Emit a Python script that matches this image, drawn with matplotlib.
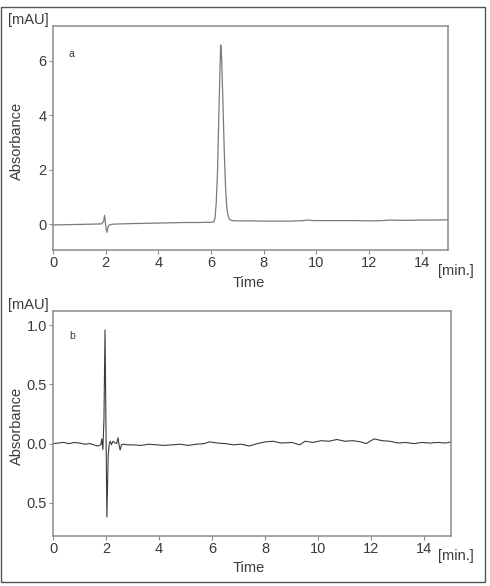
import matplotlib
matplotlib.use("Agg")
import matplotlib.pyplot as plt
from matplotlib.patches import Rectangle

plt.rcParams['font.family'] = ['Liberation Sans', 'DejaVu Sans']

# chromatogram a (time [min], absorbance [mAU])
time_a = [0.0, 0.5, 1.0, 1.5, 1.85, 1.92, 1.96, 1.99, 2.02, 2.05, 2.09, 2.15, 2.3, 2.6,
          3.0, 3.5, 4.0, 4.5, 5.0, 5.5, 6.0, 6.1, 6.15, 6.2, 6.25, 6.3, 6.35, 6.37,
          6.4, 6.45, 6.5, 6.55, 6.6, 6.65, 6.7, 6.8, 7.0, 7.5, 8.0, 8.5, 9.0, 9.5,
          9.7, 9.9, 10.5, 11.0, 11.5, 12.0, 12.5, 12.8, 13.2, 13.5, 14.0, 14.5, 15.0]
abs_a = [-0.03, -0.02, -0.01, 0.0, 0.01, 0.10, 0.32, 0.05, -0.20, -0.30, -0.10, -0.02, 0.0, 0.01,
         0.02, 0.03, 0.04, 0.05, 0.06, 0.06, 0.07, 0.08, 0.20, 0.8, 2.0, 4.1, 6.0, 6.58,
         6.2, 4.6, 2.8, 1.4, 0.6, 0.30, 0.18, 0.13, 0.12, 0.12, 0.11, 0.11, 0.11, 0.13,
         0.15, 0.13, 0.13, 0.13, 0.13, 0.12, 0.13, 0.15, 0.14, 0.14, 0.15, 0.15, 0.16]

# chromatogram b
time_b = [0.0, 0.2, 0.4, 0.6, 0.8, 1.0, 1.2, 1.4, 1.6, 1.7, 1.8, 1.84, 1.88, 1.92, 1.96,
          2.03, 2.08, 2.12, 2.16, 2.2, 2.26, 2.32, 2.4, 2.45, 2.49, 2.53, 2.58, 2.65, 2.8,
          3.0, 3.3, 3.6, 3.9, 4.2, 4.5, 4.8, 5.1, 5.4, 5.7, 5.9, 6.2, 6.5, 6.8, 7.1,
          7.4, 7.7, 8.0, 8.3, 8.6, 9.0, 9.3, 9.5, 9.8, 10.1, 10.4, 10.7, 11.0, 11.3,
          11.6, 11.8, 12.1, 12.4, 12.7, 13.0, 13.3, 13.6, 13.9, 14.2, 14.5, 14.8, 15.0]
abs_b = [0.0, 0.005, 0.01, 0.0, 0.01, 0.005, -0.005, 0.0, -0.015, -0.02, -0.01, 0.04, -0.05, 0.2, 0.96,
         -0.62, -0.1, 0.0, 0.02, -0.01, 0.02, 0.01, 0.0, 0.05, -0.01, -0.055, -0.01, -0.005, -0.01,
         -0.01, -0.015, -0.005, -0.01, -0.015, -0.01, -0.005, -0.015, -0.005, 0.0, 0.015, 0.005, 0.0, -0.01, -0.005,
         -0.02, 0.0, 0.015, 0.02, 0.005, 0.01, -0.01, 0.02, 0.01, 0.025, 0.02, 0.035, 0.02, 0.025,
         0.015, 0.0, 0.04, 0.025, 0.02, 0.005, 0.01, 0.0, 0.01, 0.005, 0.01, 0.005, 0.015]

x_ticks = [0, 2, 4, 6, 8, 10, 12, 14]
yticks_a = [0, 2, 4, 6]
yticks_b = [-0.5, 0.0, 0.5, 1.0]
ylabels_b = ['0.5', '0.0', '0.5', '1.0']

W, H = 490, 586
fig = plt.figure(figsize=(4.9, 5.86), dpi=100)

txt = '#3a3a3a'
frame = '#8c8c8c'
fs = 10.5


def fx(px):
    return px / W


def fy(py):
    return 1 - py / H


def style(ax):
    for s in ax.spines.values():
        s.set_color(frame)
        s.set_linewidth(1.1)
    ax.tick_params(direction='out', length=3, width=0.8, color=frame,
                   labelcolor=txt, labelsize=fs, pad=1.5)
    ax.set_xlim(0, 15)
    ax.set_xticks(x_ticks)


# panel a
ax1 = fig.add_axes([fx(53), fy(250), fx(448 - 53), (250 - 26) / H])
ax1.plot(time_a, abs_a, color='#7a7a7a', lw=0.9)
style(ax1)
ax1.set_ylim(-0.95, 7.28)
ax1.set_yticks(yticks_a)
ax1.text(0.6, 6.15, 'a', fontsize=7.5, color=txt)

# panel b
ax2 = fig.add_axes([fx(53), fy(536), fx(451 - 53), (536 - 311) / H])
ax2.plot(time_b, abs_b, color='#3c3c3c', lw=0.8)
style(ax2)
ax2.set_ylim(-0.78, 1.12)
ax2.set_yticks(yticks_b)
ax2.set_yticklabels(ylabels_b)
ax2.text(0.6, 0.88, 'b', fontsize=7.5, color=txt)

# labels placed like the original
for top in (0, 285):
    fig.text(fx(28), fy(top + 20), '[mAU]', ha='center', va='center', fontsize=fs, color=txt)
    fig.text(fx(456), fy(top + 271), '[min.]', ha='center', va='center', fontsize=fs, color=txt)
    fig.text(fx(249), fy(top + 283), 'Time', ha='center', va='center', fontsize=fs, color=txt)
    fig.text(fx(17), fy(top + 141), 'Absorbance', ha='center', va='center', rotation=90,
             fontsize=fs, color=txt)

# outer frame
fig.patches.append(Rectangle((fx(1), fy(582)), fx(484), (582 - 7) / H, fill=False,
                             edgecolor='#555555', lw=1.0, transform=fig.transFigure))

fig.savefig('out.png', dpi=100)
